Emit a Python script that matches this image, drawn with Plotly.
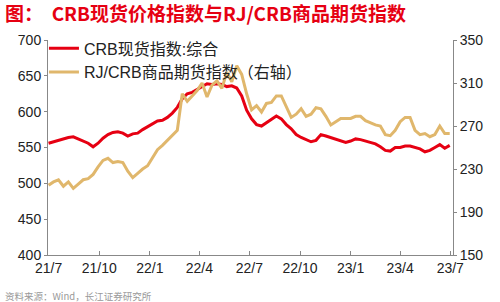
import pandas as pd
import plotly.graph_objects as go

# sampling every 9 days starting 2021-07-01
start_date = "2021-07-01"
step_days = 9

crb_spot = [556, 558, 561, 562, 564, 565, 562, 559, 556, 551,
            556, 563, 568, 571, 572, 570, 566, 569, 570, 575,
            579, 583, 587, 588, 592, 598, 606, 618, 625, 627,
            631, 635, 639, 638, 639, 638, 635, 636, 633, 622,
            602, 590, 582, 580, 585, 590, 594, 590, 582, 576,
            568, 564, 561, 558, 560, 568, 566, 564, 562, 559,
            557, 559, 562, 561, 559, 557, 555, 551, 546, 545,
            550, 550, 552, 552, 550, 548, 544, 546, 550, 554,
            549, 553]

rj_crb = [215, 218, 220, 214, 218, 212, 216, 220, 221, 225,
          232, 238, 240, 236, 237, 236, 228, 222, 226, 230,
          233, 241, 248, 252, 257, 261, 266, 300, 293, 298,
          303, 310, 297, 308, 312, 305, 320, 311, 326, 318,
          300, 285, 289, 283, 291, 292, 298, 298, 288, 278,
          281, 286, 279, 281, 287, 286, 279, 271, 274, 277,
          277, 277, 279, 279, 275, 273, 271, 270, 262, 261,
          266, 274, 278, 278, 266, 262, 263, 260, 262, 270,
          263, 263]

tick_dates = ["2021-07-01", "2021-10-01", "2022-01-01", "2022-04-01", "2022-07-01",
              "2022-10-01", "2023-01-01", "2023-04-01", "2023-07-01"]
tick_labels = ["21/7", "21/10", "22/1", "22/4", "22/7", "22/10", "23/1", "23/4", "23/7"]

dates = pd.date_range(start_date, periods=len(crb_spot), freq=f"{step_days}D")

font_fam = "Liberation Sans, Arial, Noto Sans CJK SC, sans-serif"

fig = go.Figure()
fig.add_trace(go.Scatter(x=dates, y=crb_spot, name="CRB现货指数:综合",
                         mode="lines", line=dict(color="#E60012", width=3)))
fig.add_trace(go.Scatter(x=dates, y=rj_crb, name="RJ/CRB商品期货指数（右轴）",
                         mode="lines", line=dict(color="#E0B76C", width=3), yaxis="y2"))

fig.update_layout(
    width=500, height=302,
    margin=dict(l=48, r=47, t=40, b=47),
    paper_bgcolor="white", plot_bgcolor="white",
    font=dict(family=font_fam, size=14, color="#222"),
    showlegend=True,
    legend=dict(x=-0.01, y=1.04, xanchor="left", yanchor="top",
                bgcolor="rgba(0,0,0,0)", font=dict(size=16, color="#222"),
                tracegroupgap=0, itemwidth=30),
    xaxis=dict(range=["2021-06-30", "2023-07-06"], tickvals=tick_dates, ticktext=tick_labels,
               showgrid=False, showline=True, linecolor="#888", linewidth=1,
               ticks="inside", ticklen=4, tickcolor="#888", zeroline=False,
               tickfont=dict(size=14)),
    yaxis=dict(range=[400, 700], dtick=50, showgrid=False, showline=True,
               linecolor="#888", linewidth=1, ticks="outside", ticklen=3,
               tickcolor="#888", zeroline=False, tickfont=dict(size=14)),
    yaxis2=dict(range=[150, 350], tick0=150, dtick=40, overlaying="y", side="right",
                showgrid=False, showline=True, linecolor="#888", linewidth=1,
                ticks="outside", ticklen=3, tickcolor="#888", zeroline=False,
                tickfont=dict(size=14)),
)

fig.add_annotation(text="<b>图：  CRB现货价格指数与RJ/CRB商品期货指数</b>",
                   xref="paper", yref="paper", x=-0.111, y=1.13,
                   xanchor="left", yanchor="middle", showarrow=False,
                   font=dict(size=19, color="#E60012", family="Noto Sans CJK SC, sans-serif"))
fig.add_annotation(text="资料来源：Wind，长江证券研究所",
                   xref="paper", yref="paper", x=-0.111, y=-0.19,
                   xanchor="left", yanchor="middle", showarrow=False,
                   font=dict(size=9.5, color="#999", family="Noto Sans CJK SC, sans-serif"))

fig.write_html("out.html")
